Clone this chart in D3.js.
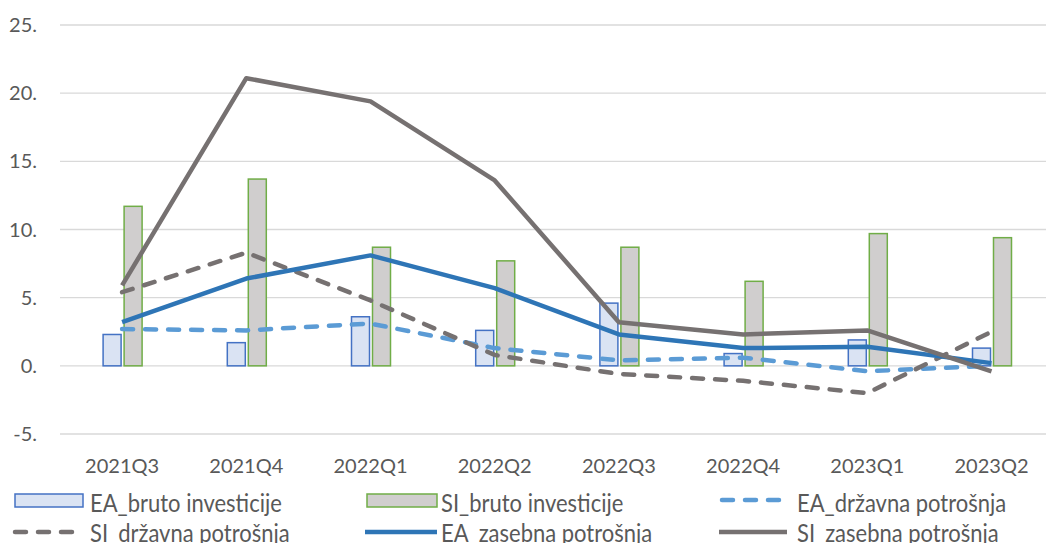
<!DOCTYPE html>
<html>
<head>
<meta charset="utf-8">
<script src="https://cdn.jsdelivr.net/npm/d3@7"></script>
<style>
  html, body { margin: 0; padding: 0; background: #ffffff; }
  svg { display: block; font-family: Lato, "Open Sans", sans-serif; }
</style>
</head>
<body>
<svg id="chart" width="1046" height="543"></svg>
<script>
const categories = ["2021Q3","2021Q4","2022Q1","2022Q2","2022Q3","2022Q4","2023Q1","2023Q2"];
const eaBruto    = [2.3, 1.7, 3.6, 2.6, 4.6, 0.9, 1.9, 1.3];
const siBruto    = [11.7, 13.7, 8.7, 7.7, 8.7, 6.2, 9.7, 9.4];
const eaDrzavna  = [2.7, 2.6, 3.1, 1.3, 0.4, 0.6, -0.4, 0.0];
const siDrzavna  = [5.4, 8.3, 4.8, 0.8, -0.6, -1.1, -2.0, 2.5];
const eaZasebna  = [3.2, 6.4, 8.1, 5.7, 2.3, 1.3, 1.4, 0.2];
const siZasebna  = [5.9, 21.1, 19.4, 13.6, 3.2, 2.3, 2.6, -0.4];
const yTicks     = [-5, 0, 5, 10, 15, 20, 25];
const yTickLabels = ["-5.", "0.", "5.", "10.", "15.", "20.", "25."];
const legendLabels = ["EA_bruto investicije","SI_bruto investicije","EA_državna potrošnja",
                      "SI_državna potrošnja","EA_zasebna potrošnja","SI_zasebna potrošnja"];

const svg = d3.select("#chart");
const textColor = "#595959";

const x = d3.scaleBand().domain(categories).range([60, 1053.6]).paddingInner(0).paddingOuter(0);
const y = d3.scaleLinear().domain([-5, 25]).range([434, 25]);
const cx = c => x(c) + x.bandwidth() / 2;

// gridlines
svg.append("g").selectAll("line").data(yTicks).join("line")
  .attr("x1", 60).attr("x2", 1053.6)
  .attr("y1", d => y(d)).attr("y2", d => y(d))
  .attr("stroke", "#d9d9d9").attr("stroke-width", 1.3);

// y tick labels
svg.append("g").selectAll("text").data(yTicks).join("text")
  .attr("x", 37).attr("y", d => y(d)).attr("dy", "0.35em")
  .attr("text-anchor", "end").attr("fill", textColor).attr("font-size", 20)
  .text((d, i) => yTickLabels[i]);

// x labels
svg.append("g").selectAll("text").data(categories).join("text")
  .attr("x", d => cx(d)).attr("y", 466).attr("dy", "0.35em")
  .attr("text-anchor", "middle").attr("fill", textColor).attr("font-size", 20)
  .text(d => d);

const barW = 18;
// bars
svg.append("g").selectAll("rect").data(eaBruto).join("rect")
  .attr("x", (d, i) => cx(categories[i]) - 19).attr("width", barW)
  .attr("y", d => y(Math.max(0, d))).attr("height", d => Math.abs(y(d) - y(0)))
  .attr("fill", "#dae3f3").attr("stroke", "#4472c4").attr("stroke-width", 1.5);
svg.append("g").selectAll("rect").data(siBruto).join("rect")
  .attr("x", (d, i) => cx(categories[i]) + 2).attr("width", barW)
  .attr("y", d => y(Math.max(0, d))).attr("height", d => Math.abs(y(d) - y(0)))
  .attr("fill", "#d0cece").attr("stroke", "#70ad47").attr("stroke-width", 1.5);

const line = d3.line().x((d, i) => cx(categories[i])).y(d => y(d));
const lineSeries = [
  {data: eaDrzavna, color: "#5b9bd5", dash: "11,12"},
  {data: siDrzavna, color: "#767171", dash: "11,12"},
  {data: eaZasebna, color: "#2e75b6", dash: null},
  {data: siZasebna, color: "#767171", dash: null}
];
lineSeries.forEach(s => {
  svg.append("path").datum(s.data).attr("d", line)
    .attr("fill", "none").attr("stroke", s.color).attr("stroke-width", 4.5)
    .attr("stroke-linejoin", "round")
    .attr("stroke-linecap", s.dash ? "round" : "butt")
    .attr("stroke-dasharray", s.dash);
});

// legend
const leg = svg.append("g");
const legendItems = [
  {type: "bar", fill: "#dae3f3", stroke: "#4472c4", x1: 15, x2: 83, sy: 500.5, tx: 90, base: 511.5},
  {type: "bar", fill: "#d0cece", stroke: "#70ad47", x1: 367, x2: 437, sy: 500.5, tx: 441, base: 511.5},
  {type: "line", color: "#5b9bd5", dash: "11,12", x1: 722, x2: 783, sy: 500, tx: 797, base: 511.5},
  {type: "line", color: "#767171", dash: "11,12", x1: 15, x2: 79, sy: 532, tx: 90, base: 542},
  {type: "line", color: "#2e75b6", dash: null, x1: 365, x2: 437, sy: 532, tx: 441, base: 542},
  {type: "line", color: "#767171", dash: null, x1: 719, x2: 787, sy: 532, tx: 797, base: 542}
];
legendItems.forEach((it, i) => {
  if (it.type === "bar") {
    leg.append("rect").attr("x", it.x1).attr("y", it.sy - 6.5)
      .attr("width", it.x2 - it.x1).attr("height", 13)
      .attr("fill", it.fill).attr("stroke", it.stroke).attr("stroke-width", 1.5);
  } else {
    leg.append("line").attr("x1", it.x1).attr("x2", it.x2)
      .attr("y1", it.sy).attr("y2", it.sy)
      .attr("stroke", it.color).attr("stroke-width", 4.5)
      .attr("stroke-linecap", it.dash ? "round" : "butt")
      .attr("stroke-dasharray", it.dash);
  }
  leg.append("text").attr("transform", `translate(${it.tx},${it.base}) scale(1,1.15)`)
    .attr("fill", textColor).attr("font-size", 22).text(legendLabels[i]);
});
</script>
</body>
</html>
